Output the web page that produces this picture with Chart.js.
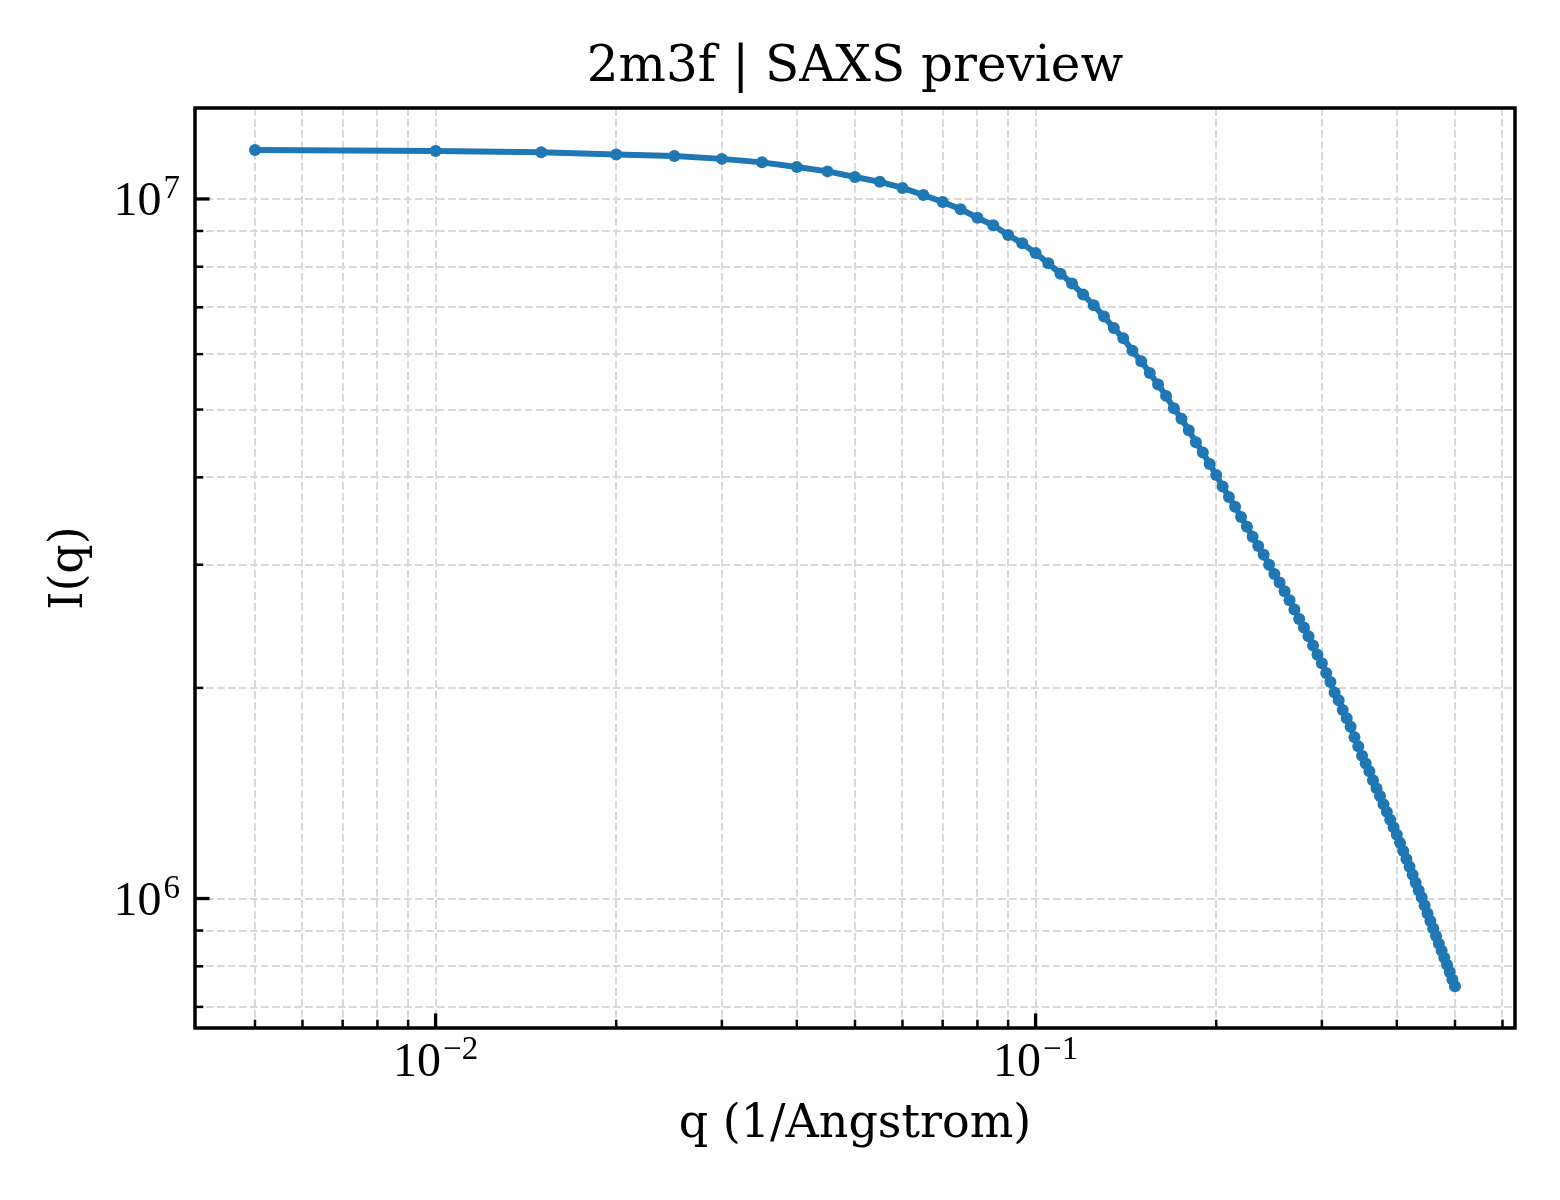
<!DOCTYPE html>
<html>
<head>
<meta charset="utf-8">
<title>2m3f | SAXS preview</title>
<script src="https://cdn.jsdelivr.net/npm/chart.js@4.4.1/dist/chart.umd.min.js"></script>
<style>
  html, body { margin: 0; padding: 0; background: #fff; }
  #wrap { width: 1560px; height: 1200px; }
</style>
</head>
<body>
<div id="wrap"><canvas id="saxs" width="1560" height="1200"></canvas></div>
<script>
// q values (1/Angstrom)
const q = [
  0.005, 0.010, 0.015, 0.020, 0.025, 0.030, 0.035, 0.040, 0.045, 0.050,
  0.055, 0.060, 0.065, 0.070, 0.075, 0.080, 0.085, 0.090, 0.095, 0.100,
  0.105, 0.110, 0.115, 0.120, 0.125, 0.130, 0.135, 0.140, 0.145, 0.150,
  0.155, 0.160, 0.165, 0.170, 0.175, 0.180, 0.185, 0.190, 0.195, 0.200,
  0.205, 0.210, 0.215, 0.220, 0.225, 0.230, 0.235, 0.240, 0.245, 0.250,
  0.255, 0.260, 0.265, 0.270, 0.275, 0.280, 0.285, 0.290, 0.295, 0.300,
  0.305, 0.310, 0.315, 0.320, 0.325, 0.330, 0.335, 0.340, 0.345, 0.350,
  0.355, 0.360, 0.365, 0.370, 0.375, 0.380, 0.385, 0.390, 0.395, 0.400,
  0.405, 0.410, 0.415, 0.420, 0.425, 0.430, 0.435, 0.440, 0.445, 0.450,
  0.455, 0.460, 0.465, 0.470, 0.475, 0.480, 0.485, 0.490, 0.495, 0.500
];
// I(q)
const intensity = [
  1.175e7, 1.171e7, 1.166e7, 1.158e7, 1.152e7, 1.141e7, 1.128e7, 1.111e7, 1.095e7, 1.075e7,
  1.058e7, 1.037e7, 1.013e7, 9.90e6, 9.67e6, 9.40e6, 9.17e6, 8.88e6, 8.64e6, 8.37e6,
  8.09e6, 7.82e6, 7.57e6, 7.30e6, 7.05e6, 6.79e6, 6.54e6, 6.32e6, 6.07e6, 5.86e6,
  5.64e6, 5.43e6, 5.23e6, 5.02e6, 4.85e6, 4.67e6, 4.49e6, 4.34e6, 4.18e6, 4.03e6,
  3.88e6, 3.75e6, 3.63e6, 3.51e6, 3.40e6, 3.29e6, 3.19e6, 3.10e6, 3.00e6, 2.91e6,
  2.83e6, 2.75e6, 2.67e6, 2.59e6, 2.51e6, 2.44e6, 2.37e6, 2.30e6, 2.23e6, 2.17e6,
  2.10e6, 2.04e6, 1.97e6, 1.92e6, 1.86e6, 1.81e6, 1.76e6, 1.70e6, 1.65e6, 1.60e6,
  1.56e6, 1.52e6, 1.476e6, 1.437e6, 1.401e6, 1.364e6, 1.330e6, 1.296e6, 1.264e6, 1.234e6,
  1.201e6, 1.169e6, 1.139e6, 1.110e6, 1.081e6, 1.053e6, 1.027e6, 1.003e6, 9.77e5, 9.52e5,
  9.29e5, 9.06e5, 8.84e5, 8.62e5, 8.42e5, 8.23e5, 8.04e5, 7.85e5, 7.66e5, 7.49e5
];

const xRange = [0.003972, 0.6295];
const yRange = [6.53e5, 1.349e7];

const xTicks = [0.005, 0.006, 0.007, 0.008, 0.009,
  0.01, 0.02, 0.03, 0.04, 0.05, 0.06, 0.07, 0.08, 0.09,
  0.1, 0.2, 0.3, 0.4, 0.5, 0.6];
const yTicks = [7e5, 8e5, 9e5,
  1e6, 2e6, 3e6, 4e6, 5e6, 6e6, 7e6, 8e6, 9e6, 1e7];
// major tick labels as base and exponent: 10^-2, 10^-1 / 10^6, 10^7
const xMajor = [0.01, 0.1];
const xMajorExp = ['\u22122', '\u22121'];
const yMajor = [1e6, 1e7];
const yMajorExp = ['6', '7'];

const serif = "'DejaVu Serif', serif";
const tickFamily = "'Liberation Serif', 'DejaVu Serif', serif";
const gridColor = '#d9d9d9';

const isMajor = v => Math.abs(Math.log10(v) - Math.round(Math.log10(v))) < 1e-9;
const expFor = (v, majors, exps) => {
  const i = majors.findIndex(m => Math.abs(m - v) / m < 1e-9);
  return i >= 0 ? exps[i] : null;
};

// draws "10" with a raised exponent, anchored at the given baseline
function drawPower(ctx, exp, x, base, align) {
  ctx.font = `48px ${tickFamily}`;
  const w1 = ctx.measureText('10').width;
  ctx.font = `33px ${tickFamily}`;
  const w2 = ctx.measureText(exp).width;
  const gap = 2;
  const total = w1 + gap + w2;
  const x0 = align === 'right' ? x - total : x - total / 2;
  ctx.textAlign = 'left';
  ctx.textBaseline = 'alphabetic';
  ctx.font = `48px ${tickFamily}`;
  ctx.fillText('10', x0, base);
  ctx.font = `33px ${tickFamily}`;
  ctx.fillText(exp, x0 + w1 + gap, base - 17);
}

// matplotlib-like frame, inward ticks on bottom and left, power-of-ten labels
const framePlugin = {
  id: 'frame',
  afterDraw(chart) {
    const { ctx, chartArea: a, scales } = chart;
    ctx.save();
    ctx.strokeStyle = '#000';
    ctx.fillStyle = '#000';
    ctx.lineCap = 'butt';
    scales.x.ticks.forEach(t => {
      const px = scales.x.getPixelForValue(t.value);
      const major = isMajor(t.value);
      ctx.lineWidth = major ? 3.3 : 2.5;
      ctx.beginPath();
      ctx.moveTo(px, a.bottom);
      ctx.lineTo(px, a.bottom - (major ? 14.6 : 8.3));
      ctx.stroke();
      const e = expFor(t.value, xMajor, xMajorExp);
      if (e) drawPower(ctx, e, px, a.bottom + 48, 'center');
    });
    scales.y.ticks.forEach(t => {
      const py = scales.y.getPixelForValue(t.value);
      const major = isMajor(t.value);
      ctx.lineWidth = major ? 3.3 : 2.5;
      ctx.beginPath();
      ctx.moveTo(a.left, py);
      ctx.lineTo(a.left + (major ? 14.6 : 8.3), py);
      ctx.stroke();
      const e = expFor(t.value, yMajor, yMajorExp);
      if (e) drawPower(ctx, e, a.left - 15, py + 16, 'right');
    });
    ctx.lineWidth = 3.5;
    ctx.strokeRect(a.left, a.top, a.right - a.left, a.bottom - a.top);
    ctx.restore();
  }
};

new Chart(document.getElementById('saxs').getContext('2d'), {
  type: 'line',
  data: {
    datasets: [{
      label: 'I(q)',
      data: q.map((v, i) => ({ x: v, y: intensity[i] })),
      borderColor: '#1f77b4',
      backgroundColor: '#1f77b4',
      borderWidth: 6,
      pointRadius: 6,
      pointBorderWidth: 0,
      pointBackgroundColor: '#1f77b4',
      tension: 0,
      fill: false
    }]
  },
  options: {
    responsive: false,
    animation: false,
    devicePixelRatio: 1,
    layout: { padding: { left: 0, right: 45, top: 0, bottom: 0 } },
    plugins: {
      legend: { display: false },
      tooltip: { enabled: false },
      title: {
        display: true,
        fullSize: false,
        text: '2m3f | SAXS preview',
        color: '#000',
        font: { family: serif, size: 50, weight: 'normal' },
        padding: { top: 38, bottom: 10 }
      }
    },
    scales: {
      x: {
        type: 'logarithmic',
        min: xRange[0],
        max: xRange[1],
        afterBuildTicks: s => { s.ticks = xTicks.map(v => ({ value: v })); },
        afterFit: s => { s.height = 172; },
        ticks: { display: false, autoSkip: false },
        grid: { color: gridColor, lineWidth: 2, drawTicks: false },
        border: { display: false, dash: [7.7, 3.3] },
        title: {
          display: true,
          text: 'q (1/Angstrom)',
          color: '#000',
          font: { family: serif, size: 46, weight: 'normal' },
          padding: { top: 0, bottom: 47 }
        }
      },
      y: {
        type: 'logarithmic',
        min: yRange[0],
        max: yRange[1],
        afterBuildTicks: s => { s.ticks = yTicks.map(v => ({ value: v })); },
        afterFit: s => { s.width = 195; },
        ticks: { display: false, autoSkip: false },
        grid: { color: gridColor, lineWidth: 2, drawTicks: false },
        border: { display: false, dash: [7.7, 3.3] },
        title: {
          display: true,
          text: 'I(q)',
          color: '#000',
          font: { family: serif, size: 46, weight: 'normal' },
          padding: { top: 42, bottom: 0 }
        }
      }
    }
  },
  plugins: [framePlugin]
});
</script>
</body>
</html>
